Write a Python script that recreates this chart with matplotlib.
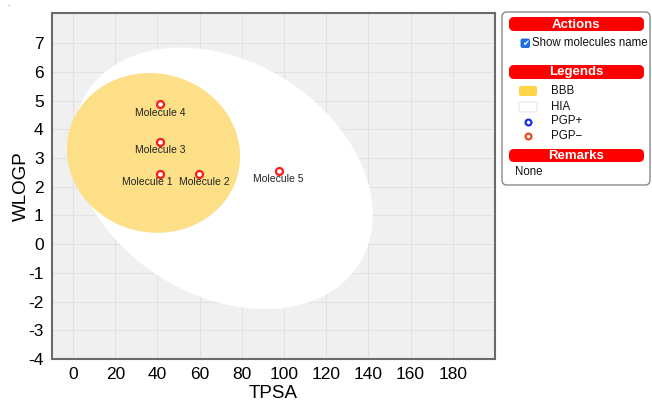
import numpy as np
import matplotlib
matplotlib.use("Agg")
import matplotlib.pyplot as plt
from matplotlib.patches import FancyBboxPatch, Polygon

plt.rcParams['font.family'] = ['Liberation Sans', 'DejaVu Sans']
plt.rcParams['axes.unicode_minus'] = False

# Molecules (TPSA, WLOGP)
names = ["Molecule 1", "Molecule 2", "Molecule 3", "Molecule 4", "Molecule 5"]
tpsa = [41.1, 59.6, 41.1, 41.1, 97.4]
wlogp = [2.45, 2.46, 3.57, 4.87, 2.56]

# BOILED-Egg ellipses: centre, full axes, rotation (degrees, data space)
hia = dict(x0=71.051, y0=2.292, a=142.081, b=8.740, angle=-1.031325)
bbb = dict(x0=38.117, y0=3.177, a=82.061, b=5.557, angle=-0.171887)

x_ticks = [0, 20, 40, 60, 80, 100, 120, 140, 160, 180]
y_ticks = [-4, -3, -2, -1, 0, 1, 2, 3, 4, 5, 6, 7]


def ellipse_points(x0, y0, a, b, angle, n=400):
    t = np.linspace(0, 2 * np.pi, n)
    phi = np.deg2rad(angle)
    x = x0 + a / 2 * np.cos(t) * np.cos(phi) - b / 2 * np.sin(t) * np.sin(phi)
    y = y0 + a / 2 * np.cos(t) * np.sin(phi) + b / 2 * np.sin(t) * np.cos(phi)
    return np.column_stack([x, y])


W, H = 652, 407
fig = plt.figure(figsize=(W / 100, H / 100), dpi=100)
fig.text(8 / W, 1 - 5 / H, '.', fontsize=5, ha='center', va='center', color='#333333')

L, R, T, B = 52, 495, 13, 359
ax = fig.add_axes([L / W, 1 - B / H, (R - L) / W, (B - T) / H])
ax.set_facecolor('#f0f0f0')
ax.set_xlim(-10, 200)
ax.set_ylim(-4, 8.05)
ax.set_xticks(x_ticks)
ax.set_yticks(y_ticks)
ax.tick_params(length=0, labelsize=12.5, pad=6)
ax.grid(True, color='#e2e2e2', lw=0.8)
ax.set_axisbelow(True)
for s in ax.spines.values():
    s.set_color('#6a6a6a')
    s.set_linewidth(1.5)
ax.set_xlabel('TPSA', fontsize=13.5, labelpad=2)
ax.set_ylabel('WLOGP', fontsize=13.5, labelpad=-1)

ax.add_patch(Polygon(ellipse_points(**hia), closed=True, fc='white', ec='none', zorder=1))
ax.add_patch(Polygon(ellipse_points(**bbb), closed=True, fc='#fddf88', ec='none', zorder=2))

ax.plot(tpsa, wlogp, 'o', ms=5, mfc='white', mec='#ff1a1a', mew=1.6, zorder=5, ls='none')

# label nudges (points) so neighbouring names do not collide
label_dx = [-9, 4, 0, 0, 0]
for n, x, y, dx in zip(names, tpsa, wlogp, label_dx):
    ax.annotate(n, (x, y), xytext=(dx, -6), textcoords='offset points',
                ha='center', va='center', fontsize=7.5, color='#222222', zorder=6)

# Side panel, drawn in pixel coordinates
ov = fig.add_axes([0, 0, 1, 1])
ov.set_xlim(0, W)
ov.set_ylim(H, 0)
ov.axis('off')
ov.patch.set_alpha(0)

ov.add_patch(FancyBboxPatch((502, 12), 148, 173, boxstyle='round,pad=0,rounding_size=5',
                            fc='white', ec='#8a8a8a', lw=1.0))


def header(y0, y1, label):
    ov.add_patch(FancyBboxPatch((509, y0), 135, y1 - y0,
                                boxstyle='round,pad=0,rounding_size=5',
                                fc='#ff0000', ec='none'))
    ov.text(576, (y0 + y1) / 2 + 0.5, label, color='white', fontsize=9.5,
            fontweight='bold', ha='center', va='center')


header(17, 31, 'Actions')
ov.add_patch(FancyBboxPatch((521, 39), 8.5, 8.5, boxstyle='round,pad=0,rounding_size=1.5',
                            fc='#1a73e8', ec='#1a5fc0', lw=0.6))
ov.text(525.3, 43.5, '\u2714', color='white', fontsize=6, ha='center', va='center',
        family=['DejaVu Sans'])
ov.text(532, 43.5, 'Show molecules name', fontsize=8.3, ha='left', va='center', color='#111111')

header(65, 79, 'Legends')
ov.add_patch(FancyBboxPatch((519, 86), 18, 10, boxstyle='round,pad=0,rounding_size=2',
                            fc='#ffd445', ec='none'))
ov.text(551, 91, 'BBB', fontsize=8.3, ha='left', va='center', color='#111111')
ov.add_patch(FancyBboxPatch((519, 102), 18, 10, boxstyle='round,pad=0,rounding_size=2',
                            fc='white', ec='#e6e6e6', lw=0.8))
ov.text(551, 106.5, 'HIA', fontsize=8.3, ha='left', va='center', color='#111111')
ov.plot([528], [121.5], 'o', ms=4.2, mfc='white', mec='#1a2ee8', mew=1.6)
ov.text(551, 121.5, 'PGP+', fontsize=8.3, ha='left', va='center', color='#111111')
ov.plot([528], [136], 'o', ms=4.2, mfc='white', mec='#f04a1e', mew=1.6)
ov.text(551, 136, 'PGP\u2212', fontsize=8.3, ha='left', va='center', color='#111111')

header(149, 162, 'Remarks')
ov.text(515, 172, 'None', fontsize=8.3, ha='left', va='center', color='#111111')

fig.savefig('out.png', dpi=100)
